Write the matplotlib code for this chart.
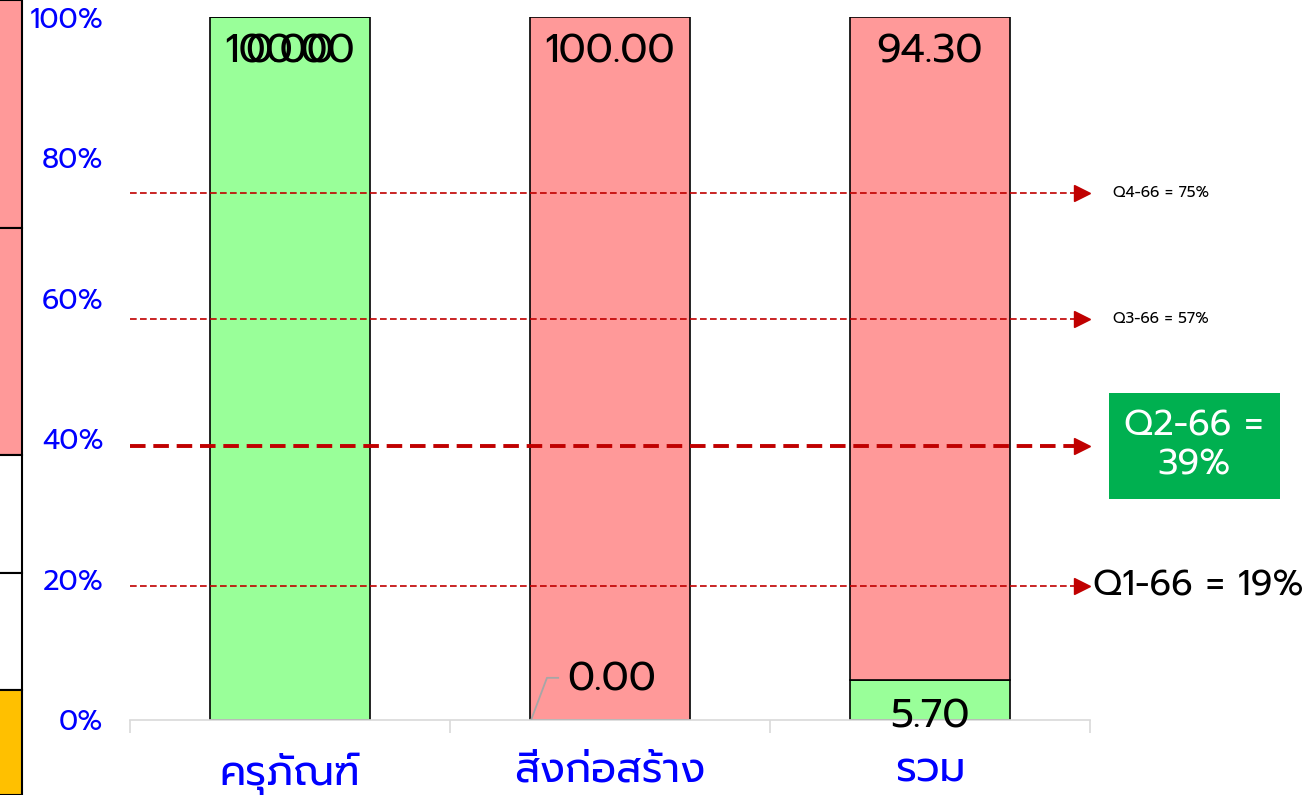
import matplotlib
matplotlib.use("Agg")
import matplotlib.pyplot as plt
import numpy as np
from matplotlib import font_manager
from matplotlib.patches import Rectangle

installed = {f.name for f in font_manager.fontManager.ttflist}
pick = [n for n in ['Prompt', 'Kanit', 'Noto Sans Thai'] if n in installed]
plt.rcParams['font.family'] = pick[:1] + ['DejaVu Sans']

# data
categories = ['ครุภัณฑ์', 'สิ่งก่อสร้าง', 'รวม']
disbursed = [100.00, 0.00, 5.70]     # green
remaining = [0.00, 100.00, 94.30]    # pink
targets = [75, 57, 39, 19]
target_labels = ['Q4-66 = 75%', 'Q3-66 = 57%', 'Q2-66 =\n39%', 'Q1-66 = 19%']

green = '#99FF99'
pink = '#FF9999'
blue = '#0000FF'
red = '#C00000'

fig = plt.figure(figsize=(13.06, 7.95), dpi=100)
ax = fig.add_axes([130 / 1306, 1 - 720 / 795, 960 / 1306, 703 / 795])

x = np.arange(len(categories))
ax.bar(x, disbursed, width=0.5, color=green, edgecolor='black', linewidth=1.2, zorder=2)
ax.bar(x, remaining, width=0.5, bottom=disbursed, color=pink, edgecolor='black', linewidth=1.2, zorder=2)

# data labels
lab_fs = 29
for i in range(len(categories)):
    # pink segment labels sit near the top
    ax.text(x[i], 95, f'{remaining[i]:.2f}', ha='center', va='center', fontsize=lab_fs, color='black', zorder=4)
    d = disbursed[i]
    if d >= 50:
        ax.text(x[i], d - 5, f'{d:.2f}', ha='center', va='center', fontsize=lab_fs, color='black', zorder=4)
    elif d > 0:
        ax.text(x[i], 0.4, f'{d:.2f}', ha='center', va='center', fontsize=lab_fs, color='black', zorder=4)
    else:
        # zero value pulled out with a leader line
        ax.plot([x[i] - 0.245, x[i] - 0.197, x[i] - 0.162], [0.2, 6.0, 6.0], color='#A6A6A6', lw=1.3, zorder=4,
                clip_on=False)
        ax.text(x[i] - 0.135, 5.7, f'{d:.2f}', ha='left', va='center', fontsize=lab_fs, color='black', zorder=4)

# target lines with arrow heads
for t in targets:
    lw = 2.8 if t == 39 else 1.2
    ax.plot([-0.5, 2.47], [t, t], ls=(0, (4, 2)), color=red, lw=lw, zorder=3, clip_on=False)
    ax.plot([2.476], [t], marker='>', color=red, markersize=11, clip_on=False, zorder=3)

ax.text(2.572, 75, target_labels[0], fontsize=11, va='center', ha='left', color='black')
ax.text(2.572, 57, target_labels[1], fontsize=11, va='center', ha='left', color='black')
ax.text(2.825, 39, target_labels[2], fontsize=25.5, va='center', ha='center', color='white', linespacing=1.15,
        bbox=dict(boxstyle='square,pad=0.45', facecolor='#00B050', edgecolor='none'))
ax.text(2.508, 19, target_labels[3], fontsize=25.5, va='center', ha='left', color='black')

ax.set_xlim(-0.5, 2.5)
ax.set_ylim(0, 100)
ax.set_yticks(np.arange(0, 101, 20))
ax.set_yticklabels([f'{v}%' for v in range(0, 101, 20)], color=blue, fontsize=20.5)
ax.tick_params(axis='y', length=0, pad=19)
ax.set_xticks(x)
ax.set_xticklabels(categories, color=blue, fontsize=29.5)
ax.tick_params(axis='x', which='major', length=0, pad=23)
ax.set_xticks([-0.5, 0.5, 1.5, 2.5], minor=True)
ax.tick_params(axis='x', which='minor', length=9, color='#D9D9D9', width=1.2)
for s in ['top', 'right', 'left']:
    ax.spines[s].set_visible(False)
ax.spines['bottom'].set_color('#D9D9D9')
ax.spines['bottom'].set_linewidth(1.2)

# strip of a neighbouring chart on the left edge
strip_edges = [0, 228, 455, 573, 690, 795]
strip_colors = [pink, pink, 'white', 'white', '#FFC000']
for k in range(len(strip_colors)):
    y0 = 1 - strip_edges[k + 1] / 795
    h = (strip_edges[k + 1] - strip_edges[k]) / 795
    fig.add_artist(Rectangle((-0.01, y0), 22 / 1306 + 0.01, h, transform=fig.transFigure,
                             facecolor=strip_colors[k], edgecolor='black', linewidth=1.5))

fig.savefig('out.png', dpi=100)
